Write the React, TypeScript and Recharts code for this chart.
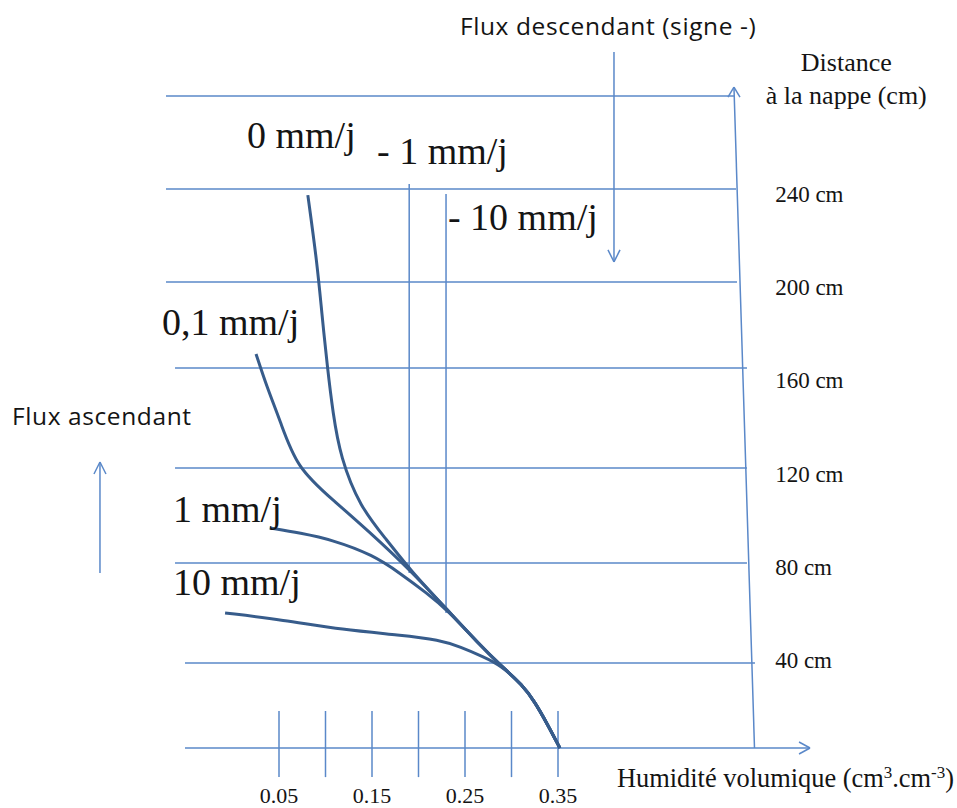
import React from 'react';
import { LineChart, Line, XAxis, YAxis, ReferenceLine, ReferenceDot } from 'recharts';

// ---------- data (humidity in cm3/cm3, distance to water table in cm) ----------
const TAIL_W = [0.266, 0.288, 0.312, 0.325, 0.338, 0.352];
const TAIL_H = [44.2, 35.6, 27.0, 19.8, 10.7, 0];

const FLUX_0_W = [0.081, 0.091, 0.096, 0.102, 0.108, 0.116, 0.137, 0.166, 0.191, 0.231];
const FLUX_0_H = [237.4, 208.2, 186.8, 163.6, 143.8, 124.9, 103.5, 89.3, 76.4, 59.3];

const FLUX_01_W = [0.0253, 0.037, 0.051, 0.069, 0.108, 0.145, 0.191, 0.231];
const FLUX_01_H = [169.2, 155.0, 140.8, 120.2, 106.5, 93.6, 76.4, 59.3];

const FLUX_1_W = [0.04, 0.073, 0.108, 0.151, 0.18, 0.209, 0.231];
const FLUX_1_H = [94.5, 92.3, 89.3, 82.9, 75.1, 66.5, 59.3];

const FLUX_10_W = [-0.008, 0.054, 0.119, 0.18, 0.223, 0.245, 0.27, 0.288];
const FLUX_10_H = [58.0, 55.0, 50.7, 48.5, 46.4, 43.4, 39.1, 35.6];

// downward flux profiles (constant humidity)
const NEG_FLUX_W = [0.19, 0.2296];
const NEG_FLUX_TOP = [242.2, 237.9];
const NEG_FLUX_BOTTOM = [75.1, 58.0];

const X_TICKS = [0.05, 0.1, 0.15, 0.2, 0.25, 0.3, 0.35];
const X_TICK_LABELS = ['0.05', '0.15', '0.25', '0.35'];
const GRID_LEVELS = [36.5, 79.4, 120.2, 163.2, 200.1, 240.0, 279.9];
const Y_TICK_VALUES = [40, 80, 120, 160, 200, 240];

const CURVE_LABELS = ['0 mm/j', '0,1 mm/j', '1 mm/j', '10 mm/j', '- 1 mm/j', '- 10 mm/j'];

const toPts = (w: number[], h: number[]) => w.map((v, i) => ({ w: v, h: h[i] }));
const CURVES = [
  toPts([...FLUX_0_W, ...TAIL_W], [...FLUX_0_H, ...TAIL_H]),
  toPts([...FLUX_01_W, ...TAIL_W], [...FLUX_01_H, ...TAIL_H]),
  toPts([...FLUX_1_W, ...TAIL_W], [...FLUX_1_H, ...TAIL_H]),
  toPts([...FLUX_10_W, ...TAIL_W.slice(2)], [...FLUX_10_H, ...TAIL_H.slice(2)]),
];

// ---------- layout ----------
const W = 957;
const H = 808;
const KX = 930; // px per unit of humidity
const KY = 2.329; // px per cm
const X_DOMAIN: [number, number] = [-232.5 / KX, (W - 232.5) / KX];
const Y_DOMAIN: [number, number] = [(748 - H) / KY, 748 / KY];

const GRID_SPANS: [number, number][] = [
  [-0.0511, 0.5618],
  [-0.0618, 0.5532],
  [-0.0618, 0.5532],
  [-0.0618, 0.5532],
  [-0.0715, 0.5425],
  [-0.0715, 0.5414],
  [-0.0715, 0.5392],
];

const GRID = '#5A88C9';
const CURVE = '#375C8B';
const INK = '#141414';
const SERIF = '"Liberation Serif", "Times New Roman", serif';
const SANS = '"Open Sans", Lato, sans-serif';

type Seg = [{ x: number; y: number }, { x: number; y: number }];
const arrowHead = (x: number, y: number, dir: 'up' | 'down' | 'right', len = 11, half = 6): Seg[] => {
  if (dir === 'right') {
    return [
      [{ x: x - len / KX, y: y + half / KY }, { x, y }],
      [{ x: x - len / KX, y: y - half / KY }, { x, y }],
    ];
  }
  const s = dir === 'up' ? -1 : 1;
  return [
    [{ x: x - half / KX, y: y + (s * len) / KY }, { x, y }],
    [{ x: x + half / KX, y: y + (s * len) / KY }, { x, y }],
  ];
};

const Txt = (props: any) => {
  const { viewBox, text, dx = 0, dy = 0, size = 23, family = SERIF, anchor = 'start', spacing = 0, children } = props;
  const x = viewBox.x + (viewBox.width || 0) / 2 + dx;
  const y = viewBox.y + (viewBox.height || 0) / 2 + dy;
  return (
    <text x={x} y={y} fontSize={size} fontFamily={family} fill={INK} textAnchor={anchor} letterSpacing={spacing}>
      {children || text}
    </text>
  );
};

const Note = ({ x, y, ...rest }: any) => (
  <ReferenceDot x={x} y={y} r={0} fill="none" stroke="none" ifOverflow="visible" label={<Txt {...rest} />} />
);

export default function App() {
  const arrows: Seg[] = [
    ...arrowHead(0.621, 0, 'right'),
    ...arrowHead(0.5392, 283.8, 'up', 10, 6),
    ...arrowHead(0.4102, 208.7, 'down', 12, 6),
    ...arrowHead(-0.1425, 122.8, 'up', 12, 6),
  ];
  return (
    <div style={{ position: 'absolute', left: 0, top: 0, width: W, height: H, background: '#fff' }}>
      <LineChart width={W} height={H} margin={{ top: 0, right: 0, bottom: 0, left: 0 }}>
        <XAxis dataKey="w" type="number" domain={X_DOMAIN} allowDataOverflow hide />
        <YAxis type="number" domain={Y_DOMAIN} allowDataOverflow hide />

        {GRID_LEVELS.map((lv, i) => (
          <ReferenceLine
            key={'g' + i}
            segment={[{ x: GRID_SPANS[i][0], y: lv }, { x: GRID_SPANS[i][1], y: lv }]}
            stroke={GRID}
            strokeWidth={1.5}
            ifOverflow="visible"
          />
        ))}
        {/* x axis */}
        <ReferenceLine segment={[{ x: -0.0511, y: 0 }, { x: 0.621, y: 0 }]} stroke={GRID} strokeWidth={1.5} ifOverflow="visible" />
        {/* distance axis (slightly slanted) */}
        <ReferenceLine segment={[{ x: 0.5392, y: 283.8 }, { x: 0.5613, y: 0 }]} stroke={GRID} strokeWidth={1.5} ifOverflow="visible" />
        {X_TICKS.map((t) => (
          <ReferenceLine key={'t' + t} segment={[{ x: t, y: 15.9 }, { x: t, y: -12.5 }]} stroke={GRID} strokeWidth={1.5} ifOverflow="visible" />
        ))}
        {NEG_FLUX_W.map((w, i) => (
          <ReferenceLine key={'n' + i} segment={[{ x: w, y: NEG_FLUX_TOP[i] }, { x: w, y: NEG_FLUX_BOTTOM[i] }]} stroke={GRID} strokeWidth={1.5} ifOverflow="visible" />
        ))}
        {/* flux arrows */}
        <ReferenceLine segment={[{ x: 0.4102, y: 298.8 }, { x: 0.4102, y: 208.7 }]} stroke={GRID} strokeWidth={1.5} ifOverflow="visible" />
        <ReferenceLine segment={[{ x: -0.1425, y: 75.1 }, { x: -0.1425, y: 122.8 }]} stroke={GRID} strokeWidth={1.5} ifOverflow="visible" />
        {arrows.map((s, i) => (
          <ReferenceLine key={'a' + i} segment={s} stroke={GRID} strokeWidth={1.5} ifOverflow="visible" />
        ))}

        {CURVES.map((c, i) => (
          <Line
            key={'c' + i}
            data={c}
            dataKey="h"
            type="basis"
            stroke={CURVE}
            strokeWidth={3}
            dot={false}
            activeDot={false}
            isAnimationActive={false}
          />
        ))}

        {/* curve labels */}
        <Note x={0.0156} y={257.6} text={CURVE_LABELS[0]} size={38} />
        <Note x={-0.0758} y={177.3} text={CURVE_LABELS[1]} size={38} />
        <Note x={-0.064} y={97.0} text={CURVE_LABELS[2]} size={38} />
        <Note x={-0.064} y={65.7} text={CURVE_LABELS[3]} size={38} />
        <Note x={0.1554} y={250.8} text={CURVE_LABELS[4]} size={38} />
        <Note x={0.2317} y={222.4} text={CURVE_LABELS[5]} size={38} />

        {/* distance tick labels */}
        {Y_TICK_VALUES.map((v) => (
          <Note key={'y' + v} x={0.5835} y={v} dy={5 + 8} text={`${v} cm`} size={23} />
        ))}
        {/* humidity tick labels */}
        {X_TICK_LABELS.map((t) => (
          <Note key={'x' + t} x={Number(t)} y={0} dy={55} text={t} size={22} anchor="middle" />
        ))}

        {/* axis titles */}
        <Note x={0.66} y={290.5} text="Distance" size={26} anchor="middle" />
        <Note x={0.66} y={276.3} text="à la nappe (cm)" size={26} anchor="middle" />
        <Note x={0.4134} y={0} dy={39} size={26.4}>
          <tspan>Humidité volumique (cm</tspan>
          <tspan dy={-9} fontSize={17}>3</tspan>
          <tspan dy={9}>.cm</tspan>
          <tspan dy={-9} fontSize={17}>-3</tspan>
          <tspan dy={9}>)</tspan>
        </Note>
        <Note x={0.2446} y={306.1} text="Flux descendant (signe -)" size={24.5} spacing={0.6} family={SANS} />
        <Note x={-0.2371} y={138.7} text="Flux ascendant" size={24.5} spacing={0.6} family={SANS} />
      </LineChart>
    </div>
  );
}
